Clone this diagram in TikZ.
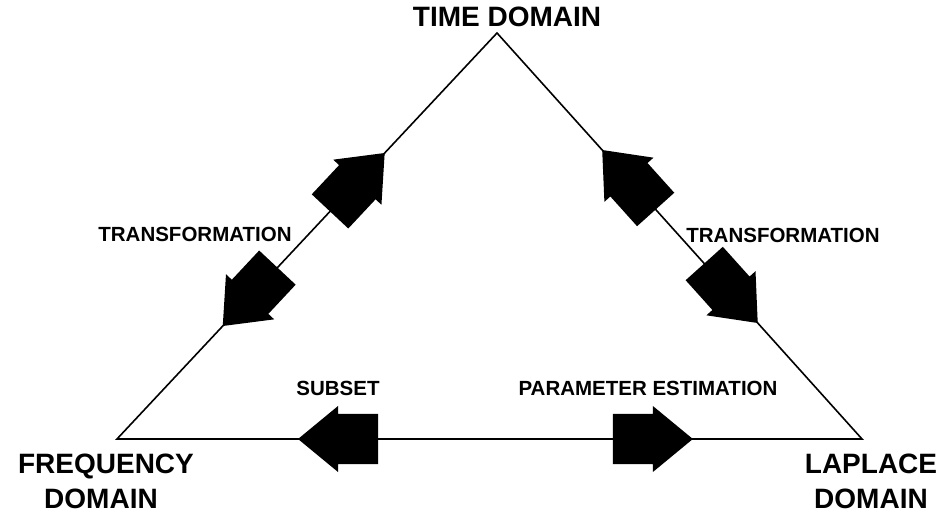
\documentclass[tikz,border=0pt]{standalone}
\usepackage{fontspec}
\setmainfont{Liberation Sans}
\usetikzlibrary{calc}
\begin{document}
\begin{tikzpicture}[x=1pt,y=1pt,
  biglabel/.style={font=\fontsize{28}{30}\selectfont\bfseries, inner sep=0pt, anchor=base},
  smalllabel/.style={font=\fontsize{20.5}{22}\selectfont\bfseries, inner sep=0pt, anchor=base},
  edge/.style={line width=1.6pt, black},
  blockarrow/.pic={\fill[black] (0,0) -- (-40,33) -- (-40,25) -- (-80,25) -- (-80,-25) -- (-40,-25) -- (-40,-33) -- cycle;}
]
\useasboundingbox (0,0) rectangle (942,514);
\coordinate (apex) at (497,481);
\coordinate (bl) at (117,75);
\coordinate (br) at (862,75);
\draw[edge, line join=miter] (bl) -- (apex) -- (br) -- cycle;

\node[biglabel] (time) at (507,487) {TIME DOMAIN};
\node[biglabel] (freq1) at (106,41) {FREQUENCY};
\node[biglabel] (freq2) at (101,6) {DOMAIN};
\node[biglabel] (lap1) at (871,41) {LAPLACE};
\node[biglabel] (lap2) at (871,6) {DOMAIN};

\node[smalllabel] (tl) at (195,272) {TRANSFORMATION};
\node[smalllabel] (tr) at (783,271) {TRANSFORMATION};
\node[smalllabel] (sub) at (338,118) {SUBSET};
\node[smalllabel] (par) at (648,118) {PARAMETER ESTIMATION};

\pic[rotate=46.9] at ($(apex)!0.2956!(bl)$) {blockarrow};
\pic[rotate=226.9] at ($(apex)!0.7217!(bl)$) {blockarrow};
\pic[rotate=131.96] at ($(apex)!0.2882!(br)$) {blockarrow};
\pic[rotate=-48.04] at ($(apex)!0.7143!(br)$) {blockarrow};
\pic[rotate=180] at ($(bl)!0.243!(br)$) {blockarrow};
\pic[rotate=0] at ($(bl)!0.773!(br)$) {blockarrow};
\end{tikzpicture}
\end{document}
